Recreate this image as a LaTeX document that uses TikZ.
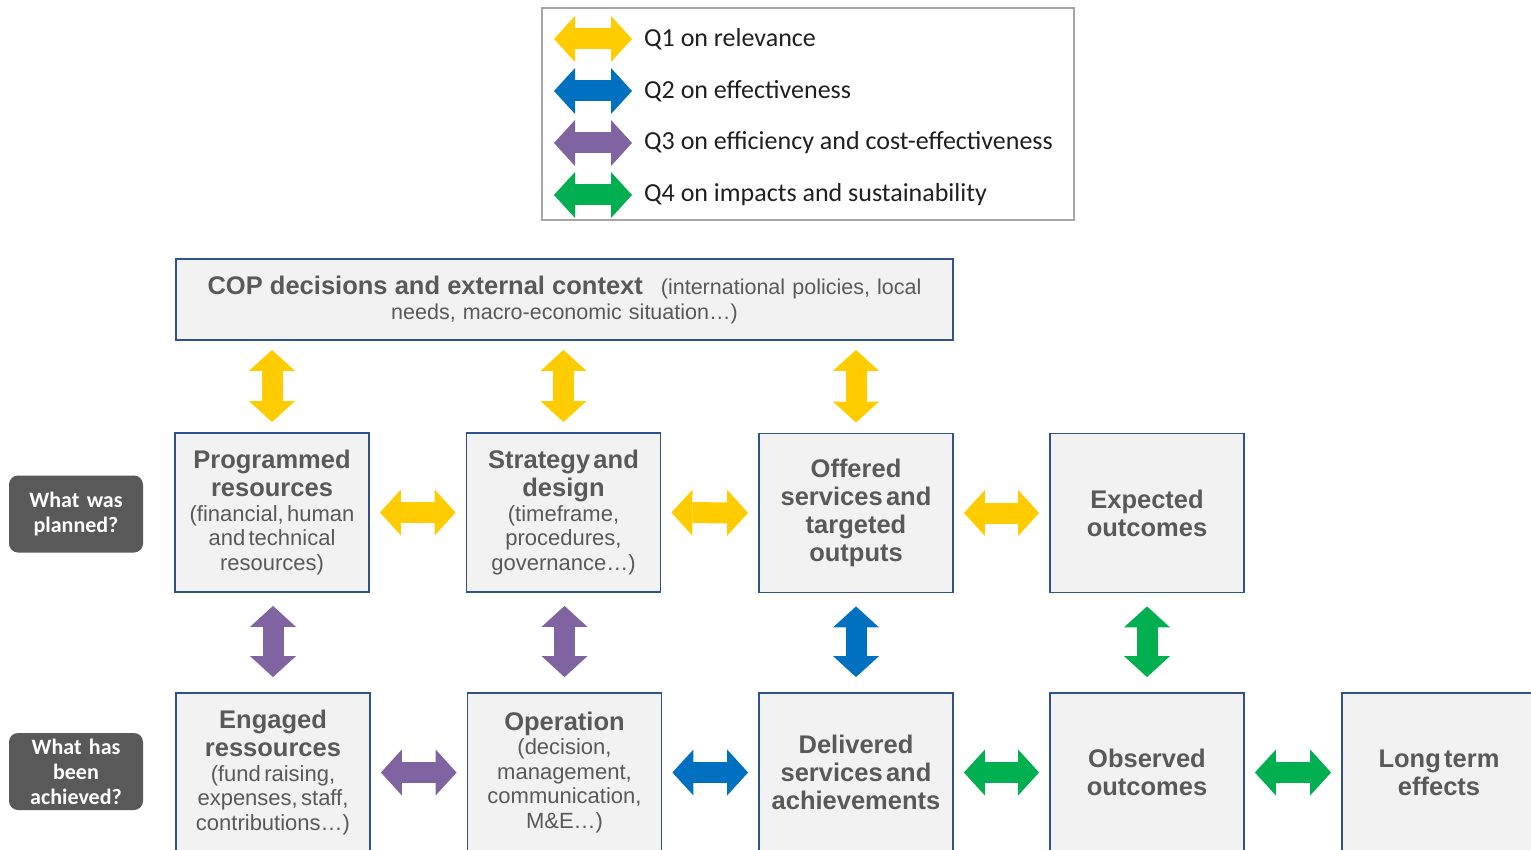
\documentclass[tikz,border=0pt]{standalone}
\usepackage{fontspec}
\setmainfont{Liberation Sans}
\newfontfamily\calib{Carlito}
\usepackage{tikz}
\usetikzlibrary{arrows.meta}

\definecolor{qyellow}{HTML}{FFCC00}
\definecolor{qblue}{HTML}{0070C0}
\definecolor{qpurple}{HTML}{8064A2}
\definecolor{qgreen}{HTML}{00B050}
\definecolor{boxline}{HTML}{2F528F}
\definecolor{boxfill}{HTML}{F2F2F2}
\definecolor{txtgray}{HTML}{595959}
\definecolor{legline}{HTML}{A6A6A6}

\newcommand\boxttl{\fontsize{25.5}{28}\selectfont\bfseries}
\newcommand\boxsub{\fontsize{22}{24.5}\selectfont\mdseries}

\begin{document}
\begin{tikzpicture}[x=1pt,y=-1pt,
  box/.style={draw=boxline,line width=1.8pt,fill=boxfill,minimum width=194pt,minimum height=159pt,inner sep=0pt,text width=190pt,align=center,text=txtgray},
  ask/.style={fill=txtgray,rounded corners=9pt,minimum width=134pt,minimum height=77pt,inner sep=0pt,text width=130pt,align=center,text=white,font=\calib\bfseries\fontsize{22}{25}\selectfont},
  key/.style={anchor=west,inner sep=0pt,text=black!88,font=\calib\fontsize{26}{28}\selectfont},
  dbl/.style={line width=21pt,>={Triangle[length=21pt,width=46pt,line width'=0pt]},<->},
  vgap/.style={shorten <=9pt,shorten >=10pt},
  rgap/.style={shorten <=13pt,shorten >=15pt},
  hgap/.style={shorten <=10pt,shorten >=10pt}]
\clip (0,0) rectangle (1531,850);

% legend
\node[draw=legline,line width=2.5pt,minimum width=532pt,minimum height=212pt] (legend) at (808,114) {};
\node[key] (q1) at (644,39) {Q1 on relevance};
\node[key] (q2) at (644,91) {Q2 on effectiveness};
\node[key] (q3) at (644,143) {Q3 on efficiency and cost-effectiveness};
\node[key] (q4) at (644,195) {Q4 on impacts and sustainability};
\draw[dbl,qyellow] ([xshift=-90pt]q1.west) -- ([xshift=-12pt]q1.west);
\draw[dbl,qblue] ([xshift=-90pt]q2.west) -- ([xshift=-12pt]q2.west);
\draw[dbl,qpurple] ([xshift=-90pt]q3.west) -- ([xshift=-12pt]q3.west);
\draw[dbl,qgreen] ([xshift=-90pt]q4.west) -- ([xshift=-12pt]q4.west);

% context
\node[box,minimum width=777pt,minimum height=81pt,text width=770pt,font=\fontsize{21.5}{25}\selectfont] (cop) at (564.5,299.5)
  {{\bfseries\fontsize{25.5}{25}\selectfont COP decisions and external context}\hspace{18pt}(international policies, local\\needs, macro-economic situation\ldots)\par};

% what was planned
\node[ask] (plan) at (76,514) {What was\\planned?};
\node[box] (prog) at (272,512.5) {\boxttl Programmed\\resources\par\boxsub (financial, human\\and technical\\resources)\par};
\node[box] (strat) at (563.5,512.5) {\boxttl Strategy and\\design\par\boxsub (timeframe,\\procedures,\\governance\ldots)\par};
\node[box] (offer) at (856,513) {\boxttl Offered\\services and\\targeted\\outputs\par};
\node[box] (expect) at (1147,513) {\boxttl Expected\\outcomes\par};

% what has been achieved
\node[ask] (done) at (76,771.5) {What has\\been\\achieved?};
\node[box] (engage) at (273,772.5) {\boxttl Engaged\\ressources\par\boxsub (fund raising,\\expenses, staff,\\contributions\ldots)\par};
\node[box] (oper) at (564.5,772.5) {\boxttl Operation\par\boxsub (decision,\\management,\\communication,\\M\&E\ldots)\par};
\node[box] (deliv) at (856,772.5) {\boxttl Delivered\\services and\\achievements\par};
\node[box] (observ) at (1147,772.5) {\boxttl Observed\\outcomes\par};
\node[box] (longt) at (1439,772.5) {\boxttl Long term\\effects\par};

% questions
\draw[dbl,vgap,qyellow] (cop.south -| prog.north) -- (prog.north);
\draw[dbl,vgap,qyellow] (cop.south -| strat.north) -- (strat.north);
\draw[dbl,vgap,qyellow] (cop.south -| offer.north) -- (offer.north);
\draw[dbl,hgap,qyellow] (prog.east) -- (strat.west);
\draw[dbl,hgap,qyellow] (strat.east) -- (offer.west);
\draw[dbl,hgap,qyellow] (offer.east) -- (expect.west);
\draw[dbl,rgap,qpurple] (engage.north |- prog.south) -- (engage.north);
\draw[dbl,rgap,qpurple] (oper.north |- strat.south) -- (oper.north);
\draw[dbl,rgap,qblue] (offer.south) -- (deliv.north);
\draw[dbl,rgap,qgreen] (expect.south) -- (observ.north);
\draw[dbl,hgap,qpurple] (engage.east) -- (oper.west);
\draw[dbl,hgap,qblue] (oper.east) -- (deliv.west);
\draw[dbl,hgap,qgreen] (deliv.east) -- (observ.west);
\draw[dbl,hgap,qgreen] (observ.east) -- (longt.west);
\end{tikzpicture}
\end{document}
